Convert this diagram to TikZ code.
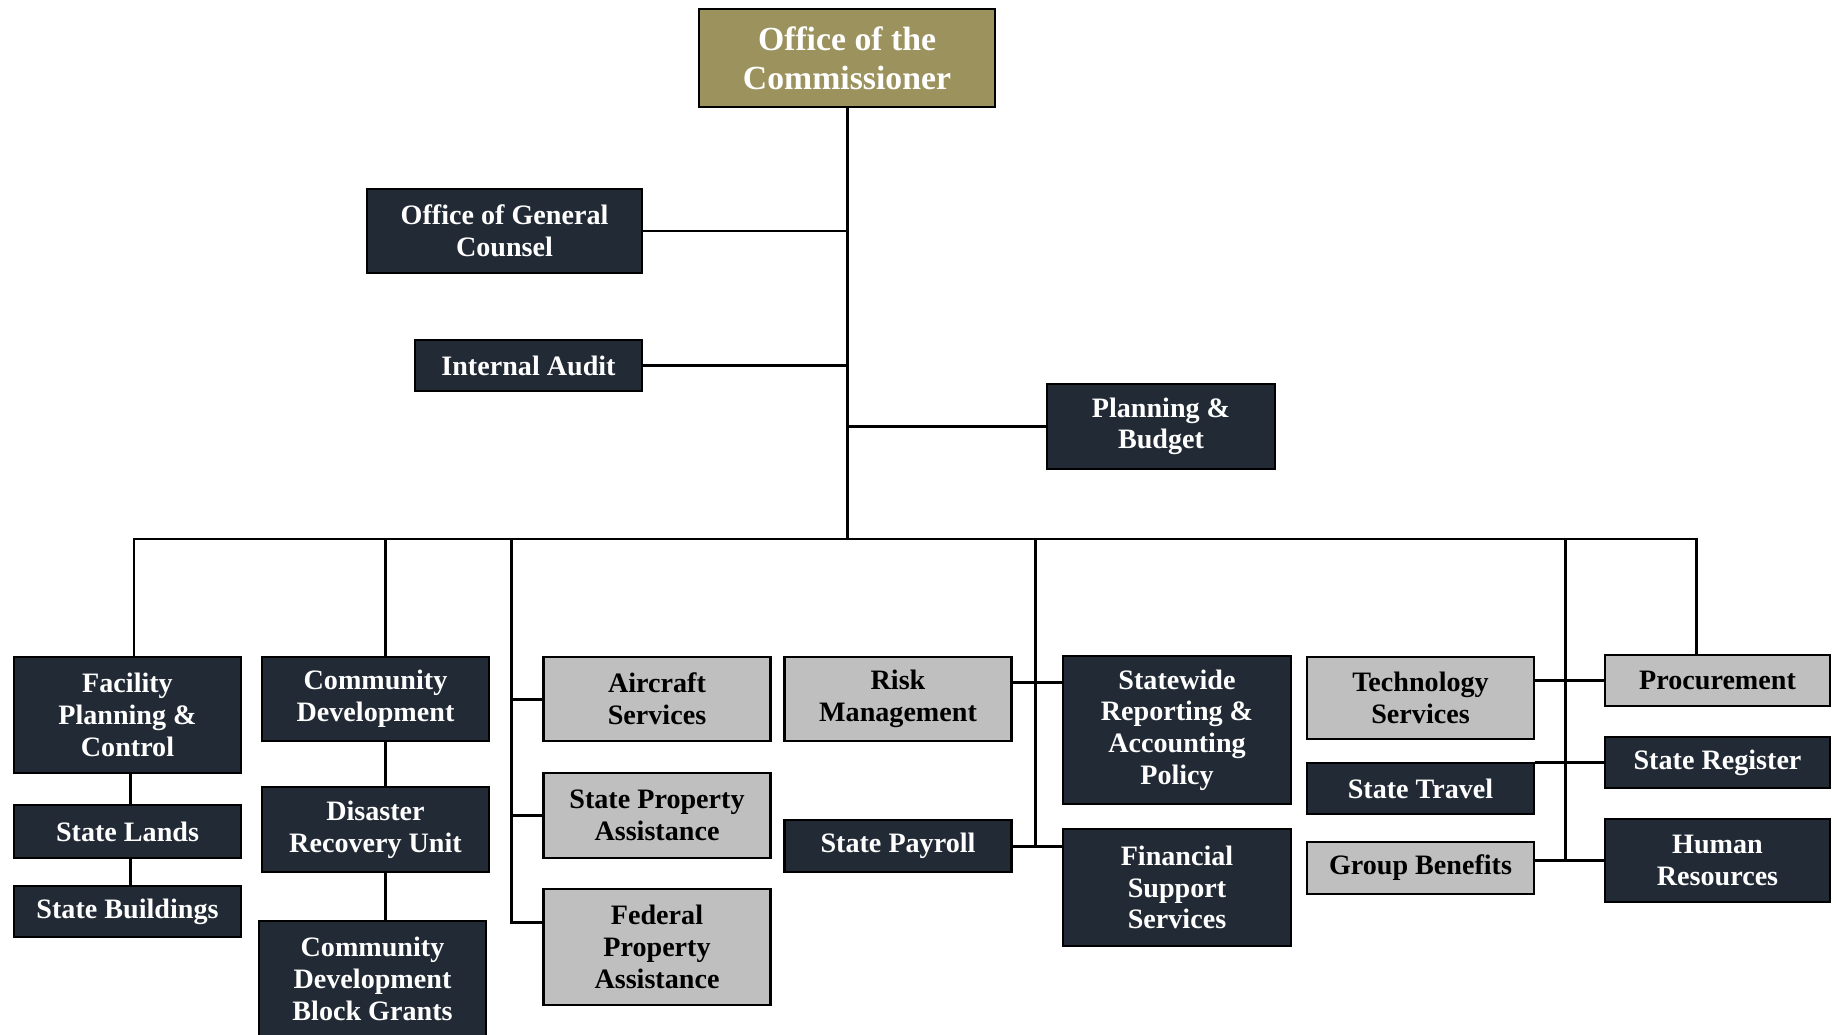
\documentclass[tikz,border=0pt]{standalone}
\usepackage{fontspec}
\setmainfont{Liberation Serif}
\usepackage{xcolor}
\usetikzlibrary{positioning,arrows.meta}
\definecolor{unitnavy}{HTML}{222A35}
\definecolor{unitgray}{HTML}{BFBFBF}
\definecolor{headgold}{HTML}{9C925E}
\tikzset{
  every path/.style={line width=0.85pt},
  unit/.style={draw=black, line width=0.6pt, fill=unitnavy, text=white,
    font=\fontsize{8}{9}\selectfont\bfseries, align=center, inner sep=0pt,
    minimum width=2.27cm},
  grayunit/.style={unit, fill=unitgray, text=black},
  head/.style={unit, fill=headgold, font=\fontsize{9.6}{11}\selectfont\bfseries,
    minimum width=2.96cm, minimum height=0.98cm},
}

\begin{document}
\begin{tikzpicture}
  \useasboundingbox (0,0) rectangle (18.37,-10.34);

  % Top
  \node[head] (comm) at (8.47,-0.58) {Office of the\\Commissioner};
  \node[unit, minimum width=2.75cm, minimum height=0.84cm] (ogc) at (5.045,-2.31) {Office of General\\Counsel};
  \node[unit, minimum height=0.51cm] (audit) at (5.285,-3.655) {Internal Audit};
  \node[unit, minimum width=2.28cm, minimum height=0.85cm] (pb) at (11.61,-4.265) {Planning \&\\Budget};

  % Divisions
  \node[unit, minimum height=1.16cm] (fpc) at (1.275,-7.15) {Facility\\Planning \&\\Control};
  \node[unit, minimum height=0.53cm] (lands) at (1.275,-8.315) {State Lands};
  \node[unit, minimum height=0.51cm] (bldg) at (1.275,-9.115) {State Buildings};

  \node[unit, minimum height=0.84cm] (cd) at (3.755,-6.99) {Community\\Development};
  \node[unit, minimum height=0.85cm] (dru) at (3.755,-8.295) {Disaster\\Recovery Unit};
  \node[unit, minimum height=1.16cm] (cdbg) at (3.725,-9.79) {Community\\Development\\Block Grants};

  \node[grayunit, minimum height=0.84cm] (air) at (6.57,-6.99) {Aircraft\\Services};
  \node[grayunit, minimum height=0.85cm] (spa) at (6.57,-8.155) {State Property\\Assistance};
  \node[grayunit, minimum height=1.16cm] (fpa) at (6.57,-9.47) {Federal\\Property\\Assistance};

  \node[grayunit, minimum height=0.84cm] (risk) at (8.98,-6.99) {Risk\\Management};
  \node[unit, minimum height=0.52cm] (payroll) at (8.98,-8.46) {State Payroll};
  \node[unit, minimum width=2.28cm, minimum height=1.48cm] (sraap) at (11.77,-7.30) {Statewide\\Reporting \&\\Accounting\\Policy};
  \node[unit, minimum width=2.28cm, minimum height=1.17cm] (fss) at (11.77,-8.875) {Financial\\Support\\Services};

  \node[grayunit, minimum height=0.82cm] (tech) at (14.205,-6.98) {Technology\\Services};
  \node[unit, minimum height=0.51cm] (travel) at (14.205,-7.885) {State Travel};
  \node[grayunit, minimum height=0.52cm] (gb) at (14.205,-8.68) {Group Benefits};

  \node[grayunit, minimum width=2.25cm, minimum height=0.51cm] (proc) at (17.175,-6.805) {Procurement};
  \node[unit, minimum width=2.25cm, minimum height=0.51cm] (reg) at (17.175,-7.625) {State Register};
  \node[unit, minimum width=2.25cm, minimum height=0.83cm] (hr) at (17.175,-8.605) {Human\\Resources};

  % Bus and trunks
  \coordinate (bus) at (8.47,-5.39);
  \coordinate (col1) at (1.34,-5.39);
  \coordinate (col2) at (3.85,-5.39);
  \coordinate (col3) at (5.11,-5.39);
  \coordinate (col4) at (10.35,-5.39);
  \coordinate (col5) at (15.65,-5.39);
  \coordinate (procdrop) at (16.96,-5.39);

  % Lines
  \draw (comm.south) -- (bus);
  \draw (ogc.east) -- (ogc.east -| comm.south);
  \draw (audit.east) -- (audit.east -| comm.south);
  \draw (pb.west) -- (pb.west -| comm.south);
  \draw (col1 |- fpc.north) -- (col1) -- (procdrop) -- (procdrop |- proc.north);
  \draw (col2) -- (col2 |- cd.north);
  \draw ([xshift=0.3mm]fpc.south) -- ([xshift=0.3mm]lands.north);
  \draw ([xshift=0.3mm]lands.south) -- ([xshift=0.3mm]bldg.north);
  \draw (col2 |- cd.south) -- (col2 |- dru.north);
  \draw (col2 |- dru.south) -- (col2 |- cdbg.north);

  \draw ([yshift=2.5mm]fpa.west) coordinate (fpabr) -| (col3);
  \draw (air.west) -- (air.west -| col3);
  \draw (spa.west) -- (spa.west -| col3);

  \draw (col4) -- (col4 |- payroll.east);
  \draw ([yshift=1.7mm]risk.east) coordinate (riskbr) -- (riskbr -| sraap.west);
  \draw (payroll.east) -- (payroll.east -| fss.west);

  \draw (col5) -- (col5 |- hr.west);
  \draw (tech.east |- proc.west) -- (proc.west);
  \draw (travel.east |- reg.west) -- (reg.west);
  \draw (gb.east |- hr.west) -- (hr.west);
\end{tikzpicture}
\end{document}
